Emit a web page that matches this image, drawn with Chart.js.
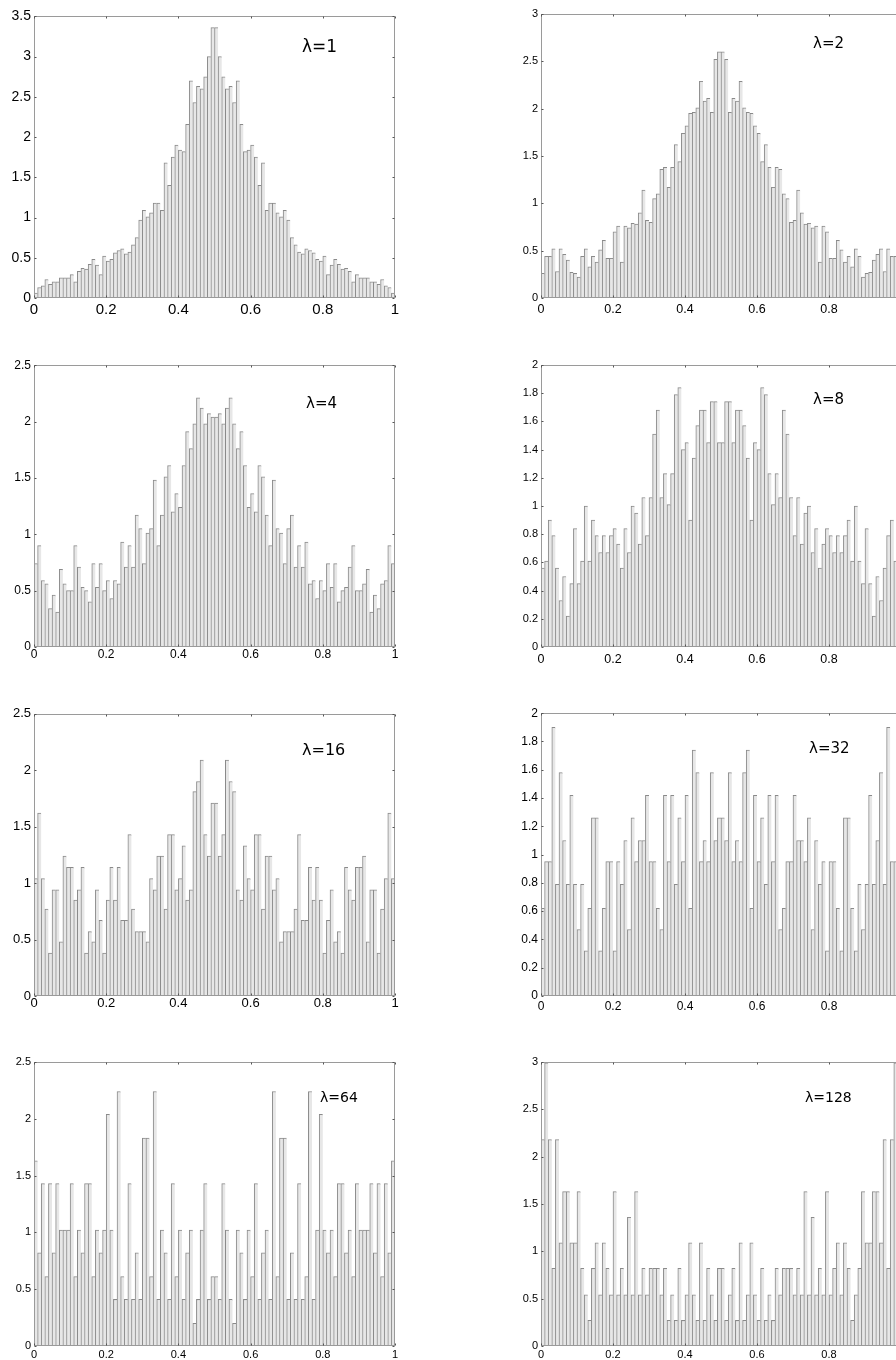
<!DOCTYPE html>
<html>
<head>
<meta charset="utf-8">
<script src="https://cdn.jsdelivr.net/npm/chart.js@4.4.0/dist/chart.umd.min.js"></script>
<style>
  html, body { margin: 0; padding: 0; background: #fff; width: 896px; height: 1360px; overflow: hidden; }
  canvas { position: absolute; }
</style>
</head>
<body>
<canvas id="c1"></canvas>
<canvas id="c2"></canvas>
<canvas id="c3"></canvas>
<canvas id="c4"></canvas>
<canvas id="c5"></canvas>
<canvas id="c6"></canvas>
<canvas id="c7"></canvas>
<canvas id="c8"></canvas>
<script>
// 100 histogram bins on [0,1] (bin centres)
var bins = [];
for (var i = 0; i < 100; i++) bins.push((i + 0.5) / 100);
var xTicks = [0, 0.2, 0.4, 0.6, 0.8, 1];

var titles = ['\u03bb=1', '\u03bb=2', '\u03bb=4', '\u03bb=8', '\u03bb=16', '\u03bb=32', '\u03bb=64', '\u03bb=128'];
var yMax  = [3.5, 3, 2.5, 2, 2.5, 2, 2.5, 3];
var yStep = [0.5, 0.5, 0.5, 0.2, 0.5, 0.2, 0.5, 0.5];

var lam1 = [0.06,0.13,0.15,0.23,0.17,0.2,0.2,0.25,0.25,0.25,0.29,0.2,0.33,0.37,0.36,0.42,0.48,0.41,0.29,0.52,
  0.46,0.48,0.56,0.59,0.61,0.55,0.57,0.66,0.75,0.97,1.09,1.01,1.06,1.18,1.18,1.09,1.68,1.4,1.75,1.9,
  1.84,1.82,2.16,2.7,2.43,2.63,2.6,2.75,3.0,3.36,3.36,3.0,2.75,2.6,2.63,2.43,2.7,2.16,1.82,1.84,
  1.9,1.75,1.4,1.68,1.09,1.18,1.18,1.06,1.01,1.09,0.97,0.75,0.66,0.57,0.55,0.61,0.59,0.56,0.48,0.46,
  0.52,0.29,0.41,0.48,0.42,0.36,0.37,0.33,0.2,0.29,0.25,0.25,0.25,0.2,0.2,0.17,0.23,0.15,0.13,0.06];

var lam2 = [0.26,0.44,0.44,0.52,0.28,0.52,0.46,0.4,0.27,0.26,0.22,0.44,0.52,0.33,0.44,0.38,0.51,0.61,0.42,0.42,
  0.7,0.76,0.38,0.76,0.74,0.79,0.78,0.9,1.14,0.82,0.8,1.05,1.1,1.36,1.38,1.17,1.38,1.62,1.44,1.74,
  1.82,1.95,1.96,2.01,2.29,2.08,2.11,1.96,2.52,2.6,2.6,2.52,1.96,2.11,2.08,2.29,2.01,1.96,1.95,1.82,
  1.74,1.44,1.62,1.38,1.17,1.38,1.36,1.1,1.05,0.8,0.82,1.14,0.9,0.78,0.79,0.74,0.76,0.38,0.76,0.7,
  0.42,0.42,0.61,0.51,0.38,0.44,0.33,0.52,0.44,0.22,0.26,0.27,0.4,0.46,0.52,0.28,0.52,0.44,0.44,0.26];

var lam4 = [0.74,0.9,0.59,0.56,0.34,0.46,0.31,0.69,0.56,0.5,0.5,0.9,0.71,0.53,0.5,0.4,0.74,0.53,0.74,0.5,
  0.59,0.43,0.59,0.56,0.93,0.71,0.9,0.71,1.17,1.05,0.74,1.01,1.05,1.48,0.9,1.17,1.51,1.61,1.2,1.36,
  1.24,1.61,1.91,1.76,1.98,2.21,2.12,1.98,2.07,2.04,2.04,2.07,1.98,2.12,2.21,1.98,1.76,1.91,1.61,1.24,
  1.36,1.2,1.61,1.51,1.17,0.9,1.48,1.05,1.01,0.74,1.05,1.17,0.71,0.9,0.71,0.93,0.56,0.59,0.43,0.59,
  0.5,0.74,0.53,0.74,0.4,0.5,0.53,0.71,0.9,0.5,0.5,0.56,0.69,0.31,0.46,0.34,0.56,0.59,0.9,0.74];

var lam8 = [0.56,0.61,0.9,0.79,0.56,0.33,0.5,0.22,0.45,0.84,0.45,0.61,1.0,0.61,0.9,0.79,0.67,0.79,0.67,0.79,
  0.84,0.73,0.56,0.84,0.67,1.0,0.95,0.73,1.06,0.79,1.06,1.51,1.68,1.06,1.23,1.01,1.23,1.79,1.84,1.4,
  1.45,0.9,1.34,1.57,1.68,1.68,1.45,1.74,1.74,1.45,1.45,1.74,1.74,1.45,1.68,1.68,1.57,1.34,0.9,1.45,
  1.4,1.84,1.79,1.23,1.01,1.23,1.06,1.68,1.51,1.06,0.79,1.06,0.73,0.95,1.0,0.67,0.84,0.56,0.73,0.84,
  0.79,0.67,0.79,0.67,0.79,0.9,0.61,1.0,0.61,0.45,0.84,0.45,0.22,0.5,0.33,0.56,0.79,0.9,0.61,0.56];

var lam16 = [1.04,1.62,1.04,0.77,0.38,0.94,0.94,0.48,1.24,1.14,1.14,0.85,0.94,1.14,0.38,0.57,0.48,0.94,0.67,0.38,
  0.85,1.14,0.85,1.14,0.67,0.67,1.43,0.77,0.57,0.57,0.57,0.48,1.04,0.94,1.24,1.24,0.77,1.43,1.43,0.94,
  1.04,1.33,0.85,0.94,1.81,1.9,2.09,1.43,1.24,1.71,1.71,1.24,1.43,2.09,1.9,1.81,0.94,0.85,1.33,1.04,
  0.94,1.43,1.43,0.77,1.24,1.24,0.94,1.04,0.48,0.57,0.57,0.57,0.77,1.43,0.67,0.67,1.14,0.85,1.14,0.85,
  0.38,0.67,0.94,0.48,0.57,0.38,1.14,0.94,0.85,1.14,1.14,1.24,0.48,0.94,0.94,0.38,0.77,1.04,1.62,1.04];

var lam32 = [0.62,0.95,0.95,1.9,0.79,1.58,1.1,0.79,1.42,0.79,0.47,0.79,0.32,0.62,1.26,1.26,0.32,0.62,0.95,0.95,
  0.32,0.95,0.79,1.1,0.47,1.26,0.95,1.1,1.1,1.42,0.95,0.95,0.62,0.47,1.42,0.95,1.42,0.79,1.26,0.95,
  1.42,0.62,1.74,1.58,0.95,1.1,0.95,1.58,1.1,1.26,1.26,1.1,1.58,0.95,1.1,0.95,1.58,1.74,0.62,1.42,
  0.95,1.26,0.79,1.42,0.95,1.42,0.47,0.62,0.95,0.95,1.42,1.1,1.1,0.95,1.26,0.47,1.1,0.79,0.95,0.32,
  0.95,0.95,0.62,0.32,1.26,1.26,0.62,0.32,0.79,0.47,0.79,1.42,0.79,1.1,1.58,0.79,1.9,0.95,0.95,0.62];

var lam64 = [1.63,0.82,1.43,0.61,1.43,0.82,1.43,1.02,1.02,1.02,1.43,0.61,1.02,0.82,1.43,1.43,0.61,1.02,0.82,1.02,
  2.04,1.02,0.41,2.24,0.61,0.41,1.43,0.41,0.82,0.41,1.83,1.83,0.61,2.24,0.41,1.02,0.82,0.41,1.43,0.61,
  1.02,0.41,0.82,1.02,0.2,0.41,1.02,1.43,0.41,0.61,0.61,0.41,1.43,1.02,0.41,0.2,1.02,0.82,0.41,1.02,
  0.61,1.43,0.41,0.82,1.02,0.41,2.24,0.61,1.83,1.83,0.41,0.82,0.41,1.43,0.41,0.61,2.24,0.41,1.02,2.04,
  1.02,0.82,1.02,0.61,1.43,1.43,0.82,1.02,0.61,1.43,1.02,1.02,1.02,1.43,0.82,1.43,0.61,1.43,0.82,1.63];

var lam128 = [2.18,2.99,2.18,0.82,2.18,1.09,1.63,1.63,1.09,1.09,1.63,0.82,0.54,0.27,0.82,1.09,0.54,1.09,0.82,0.54,
  1.63,0.54,0.82,0.54,1.36,0.54,1.63,0.54,0.82,0.54,0.82,0.82,0.82,0.54,0.82,0.27,0.54,0.27,0.82,0.27,
  0.54,1.09,0.54,0.27,1.09,0.27,0.82,0.54,0.27,0.82,0.82,0.27,0.54,0.82,0.27,1.09,0.27,0.54,1.09,0.54,
  0.27,0.82,0.27,0.54,0.27,0.82,0.54,0.82,0.82,0.82,0.54,0.82,0.54,1.63,0.54,1.36,0.54,0.82,0.54,1.63,
  0.54,0.82,1.09,0.54,1.09,0.82,0.27,0.54,0.82,1.63,1.09,1.09,1.63,1.63,1.09,2.18,0.82,2.18,2.99,2.18];

var series = [lam1, lam2, lam4, lam8, lam16, lam32, lam64, lam128];

// page layout of each plot box: [left, top, width, height]
var boxes = [
  [34, 15, 361, 283], [541, 14, 360, 284],
  [34, 365, 361, 282], [541, 365, 360, 282],
  [34, 713, 361, 283], [541, 713, 360, 283],
  [34, 1062, 361, 284], [541, 1062, 360, 284]
];
var yFont = [14, 11, 12, 11, 13, 12, 11, 11];
var xFont = [15, 12.5, 12, 12.5, 13, 12, 11, 11];
var xPad  = [3, 4, 0, 5, 0, 3, 2, 2];
// label placement inside the box: [dx, dy of text centre, font size]
var labelPos = [[268, 29, 17], [272, 29, 15], [272, 37, 15], [272, 34, 15],
                [268, 35, 16], [268, 34, 15], [286, 35, 14], [264, 35, 14]];

var framePlugin = {
  id: 'frame',
  afterDatasetsDraw: function (chart, args, opts) {
    var a = chart.chartArea, ctx = chart.ctx;
    var xs = chart.scales.x, ys = chart.scales.y;
    ctx.save();
    ctx.strokeStyle = '#9a9a9a';
    ctx.lineWidth = 1;
    var l = Math.round(a.left) + 0.5, r = Math.round(a.right) - 0.5;
    var t = Math.round(a.top) + 0.5, b = Math.round(a.bottom) - 0.5;
    ctx.strokeRect(l, t, r - l, b - t);
    ctx.strokeStyle = '#555';
    ctx.beginPath();
    xs.ticks.forEach(function (tk) {
      var px = Math.round(xs.getPixelForValue(tk.value)) + 0.5;
      ctx.moveTo(px, b); ctx.lineTo(px, b - 2);
      ctx.moveTo(px, t); ctx.lineTo(px, t + 2);
    });
    ys.ticks.forEach(function (tk) {
      var py = Math.round(ys.getPixelForValue(tk.value)) + 0.5;
      ctx.moveTo(l, py); ctx.lineTo(l + 2, py);
      ctx.moveTo(r, py); ctx.lineTo(r - 2, py);
    });
    ctx.stroke();
    var lp = opts.pos;
    ctx.fillStyle = '#000';
    ctx.font = lp[2] + 'px "DejaVu Sans", sans-serif';
    ctx.textBaseline = 'alphabetic';
    ctx.fillText(opts.text, a.left + lp[0], a.top + lp[1] + 0.365 * lp[2]);
    ctx.restore();
  }
};

series.forEach(function (vals, k) {
  var box = boxes[k];
  var cv = document.getElementById('c' + (k + 1));
  var w = 34 + box[2] + 10, h = 10 + box[3] + 24;
  cv.width = w; cv.height = h;
  cv.style.left = (box[0] - 34) + 'px';
  cv.style.top = (box[1] - 10) + 'px';
  cv.style.width = w + 'px'; cv.style.height = h + 'px';

  var yTicks = [];
  for (var v = 0; v <= yMax[k] + 1e-9; v += yStep[k]) yTicks.push(+v.toFixed(2));

  new Chart(cv, {
    type: 'bar',
    data: {
      labels: bins,
      datasets: [{
        data: vals,
        backgroundColor: '#e7e7e7',
        borderColor: '#8a8a8a',
        borderWidth: { left: 1, top: 1, right: 0, bottom: 0 },
        borderSkipped: false,
        barPercentage: 1,
        categoryPercentage: 1
      }]
    },
    options: {
      responsive: false,
      animation: false,
      devicePixelRatio: 1,
      layout: { padding: { top: 10, right: 10, bottom: 0, left: 0 } },
      plugins: {
        legend: { display: false },
        tooltip: { enabled: false },
        frame: { text: titles[k], pos: labelPos[k] }
      },
      scales: {
        x: {
          type: 'linear', min: 0, max: 1, offset: false,
          grid: { display: false, drawTicks: false },
          border: { display: false },
          afterBuildTicks: function (s) { s.ticks = xTicks.map(function (t) { return { value: t }; }); },
          afterFit: function (s) { s.height = 24; },
          ticks: {
            autoSkip: false, maxRotation: 0, padding: xPad[k], color: '#000',
            font: { family: '"Liberation Sans", Arial, sans-serif', size: xFont[k] },
            callback: function (v) { return String(v); }
          }
        },
        y: {
          min: 0, max: yMax[k],
          grid: { display: false, drawTicks: false },
          border: { display: false },
          afterBuildTicks: function (s) { s.ticks = yTicks.map(function (t) { return { value: t }; }); },
          afterFit: function (s) { s.width = 34; },
          ticks: {
            padding: 3, color: '#000',
            font: { family: '"Liberation Sans", Arial, sans-serif', size: yFont[k] },
            callback: function (v) { return String(v); }
          }
        }
      }
    },
    plugins: [framePlugin]
  });
});
</script>
</body>
</html>
